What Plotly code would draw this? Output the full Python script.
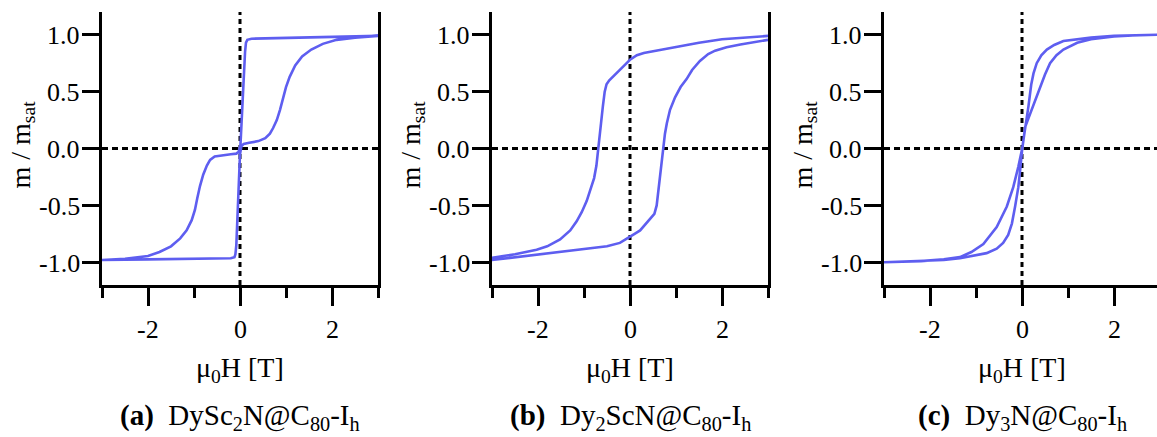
import plotly.graph_objects as go

# ---------------- data ----------------
H_a = [3.0, 2.5, 2.0, 1.5, 1.0, 0.5, 0.25, 0.16, 0.13, 0.11, 0.08, 0.05, 0.03, 0.01, -0.03, -0.08,
       -0.2, -0.4, -0.55, -0.65, -0.72, -0.8, -0.87, -0.93, -0.98, -1.05, -1.16, -1.3, -1.5, -1.75,
       -2.0, -2.5, -3.0,
       -3.0, -2.0, -1.0, -0.5, -0.2, -0.12, -0.1, -0.08, -0.06, -0.04, -0.02, 0.0, 0.03, 0.08,
       0.2, 0.4, 0.55, 0.65, 0.72, 0.8, 0.87, 0.94, 1.0, 1.08, 1.2, 1.35, 1.55, 1.8, 2.1, 2.5, 3.0]
M_a = [0.99, 0.985, 0.98, 0.978, 0.975, 0.97, 0.965, 0.955, 0.93, 0.85, 0.6, 0.35, 0.15, 0.03, -0.03, -0.045,
       -0.05, -0.06, -0.07, -0.1, -0.15, -0.23, -0.33, -0.44, -0.54, -0.63, -0.72, -0.79, -0.86, -0.91,
       -0.945, -0.97, -0.98,
       -0.98, -0.975, -0.972, -0.968, -0.965, -0.955, -0.93, -0.85, -0.65, -0.4, -0.18, -0.05, 0.02, 0.04,
       0.05, 0.065, 0.09, 0.13, 0.18, 0.25, 0.34, 0.45, 0.54, 0.63, 0.73, 0.81, 0.87, 0.92, 0.955, 0.975, 0.99]

H_b = [3.0, 2.5, 2.0, 1.5, 1.0, 0.6, 0.3, 0.15, 0.0, -0.1, -0.22, -0.35, -0.45, -0.51, -0.55, -0.59,
       -0.65, -0.7, -0.73, -0.78, -0.86, -0.94, -1.05, -1.16, -1.3, -1.52, -1.8, -2.03, -2.5, -3.0,
       -3.0, -2.5, -2.0, -1.5, -1.0, -0.5, -0.22, 0.0, 0.1, 0.22, 0.35, 0.47, 0.53, 0.58, 0.62, 0.67,
       0.72, 0.76, 0.8, 0.87, 0.98, 1.1, 1.23, 1.35, 1.52, 1.7, 1.85, 2.1, 2.4, 2.7, 3.0]
M_b = [0.99, 0.975, 0.96, 0.93, 0.895, 0.865, 0.84, 0.82, 0.78, 0.74, 0.69, 0.64, 0.6, 0.565, 0.5, 0.37,
       0.17, 0.0, -0.15, -0.26, -0.37, -0.46, -0.56, -0.64, -0.72, -0.8, -0.86, -0.89, -0.93, -0.96,
       -0.98, -0.955, -0.93, -0.905, -0.885, -0.86, -0.83, -0.78, -0.75, -0.72, -0.66, -0.61, -0.575, -0.5, -0.36, -0.15,
       0.0, 0.13, 0.22, 0.34, 0.45, 0.54, 0.61, 0.69, 0.77, 0.83, 0.86, 0.89, 0.915, 0.935, 0.955]

H_c = [3.0, 2.5, 2.0, 1.5, 1.2, 0.9, 0.7, 0.54, 0.42, 0.32, 0.25, 0.2, 0.14, 0.07, 0.0, -0.08,
       -0.19, -0.33, -0.55, -0.84, -1.1, -1.35, -1.7, -2.2, -3.0,
       -3.0, -2.2, -1.7, -1.35, -1.05, -0.77, -0.55, -0.41, -0.3, -0.22, -0.15, -0.08, -0.04, 0.0,
       0.07, 0.21, 0.39, 0.5, 0.61, 0.75, 0.9, 1.2, 1.5, 2.0, 2.5, 3.0]
M_c = [1.0, 0.995, 0.99, 0.975, 0.96, 0.945, 0.91, 0.87, 0.82, 0.75, 0.66, 0.56, 0.37, 0.17, -0.01, -0.16,
       -0.34, -0.51, -0.69, -0.84, -0.91, -0.955, -0.975, -0.99, -1.0,
       -1.0, -0.99, -0.98, -0.965, -0.945, -0.92, -0.88, -0.83, -0.76, -0.66, -0.51, -0.34, -0.19, -0.02,
       0.19, 0.34, 0.54, 0.65, 0.75, 0.82, 0.87, 0.93, 0.96, 0.985, 0.995, 1.0]

captions = ["<b>(a)</b>\u2002DySc<sub>2</sub>N@C<sub>80</sub>-I<sub>h</sub>",
            "<b>(b)</b>\u2002Dy<sub>2</sub>ScN@C<sub>80</sub>-I<sub>h</sub>",
            "<b>(c)</b>\u2002Dy<sub>3</sub>N@C<sub>80</sub>-I<sub>h</sub>"]
y_tickvals = [-1.0, -0.5, 0.0, 0.5, 1.0]
y_ticktext = ["-1.0", "-0.5", "0.0", "0.5", "1.0"]
x_tickvals = [-2, 0, 2]
x_ticktext = ["-2", "0", "2"]
x_minorvals = [-3, -1, 1, 3]
x_title = "\u03bc<sub>0</sub>H [T]"
y_title = "m / m<sub>sat</sub>"

# ---------------- figure ----------------
W, Hh = 1157, 437
LINE = "#5e5ef0"
FONT = "Liberation Serif"
TICKFONT = dict(family=FONT, size=26, color="black")

fig = go.Figure()
series = [(H_a, M_a), (H_b, M_b), (H_c, M_c)]
left_px = [102, 492, 884]
plot_w = 276
xranges = [[-3, 3], [-3, 3], [-3, -3 + 6 * (W - 884) / plot_w]]

for i, (hx, my) in enumerate(series):
    n = i + 1
    xa = "x" if n == 1 else f"x{n}"
    ya = "y" if n == 1 else f"y{n}"
    fig.add_trace(go.Scatter(x=hx, y=my, mode="lines", xaxis=xa, yaxis=ya,
                             line=dict(color=LINE, width=2.6), showlegend=False,
                             hoverinfo="skip"))
    d0 = left_px[i] / W
    d1 = min(1.0, (left_px[i] + plot_w) / W)
    xkey = "xaxis" if n == 1 else f"xaxis{n}"
    ykey = "yaxis" if n == 1 else f"yaxis{n}"
    fig.layout[xkey] = dict(domain=[d0, d1], range=xranges[i], anchor=ya,
                            showgrid=False, zeroline=False, showline=True, linecolor="black",
                            linewidth=3, mirror=False,
                            ticks="outside", ticklen=18, tickwidth=3, tickcolor="black",
                            tickmode="array", tickvals=x_tickvals, showticklabels=False,
                            minor=dict(tickvals=x_minorvals, ticks="outside", ticklen=10,
                                       tickwidth=3, tickcolor="black", showgrid=False))
    fig.layout[ykey] = dict(domain=[0, 1], range=[-1.2, 1.2], anchor=xa,
                            showgrid=False, zeroline=False, showline=True, linecolor="black",
                            linewidth=3, mirror=(i < 2),
                            ticks="outside", ticklen=17, tickwidth=3, tickcolor="black",
                            tickmode="array", tickvals=y_tickvals, showticklabels=False)
    # tick labels placed through the axes
    for v, t in zip(y_tickvals, y_ticktext):
        fig.add_annotation(xref=f"{xa} domain", yref=ya, x=0, y=v, xshift=-21, yshift=-1,
                           text=t, showarrow=False, xanchor="right", yanchor="middle",
                           borderpad=0, font=TICKFONT)
    for v, t in zip(x_tickvals, x_ticktext):
        fig.add_annotation(xref=xa, yref=f"{ya} domain", x=v, y=0, yshift=-44,
                           text=t, showarrow=False, xanchor="center", yanchor="middle",
                           borderpad=0, font=TICKFONT)
    # dashed zero lines
    fig.add_shape(type="line", xref=xa, yref=f"{ya} domain", x0=0, x1=0, y0=0, y1=1,
                  line=dict(color="black", width=3, dash="5px,4px"), layer="below")
    fig.add_shape(type="line", xref=f"{xa} domain", yref=ya, x0=0, x1=1, y0=0, y1=0,
                  line=dict(color="black", width=3, dash="6px,4px"), layer="below")
    # axis titles
    fig.add_annotation(xref=f"{xa} domain", yref=f"{ya} domain", x=0, y=0.5,
                       xshift=-80, yshift=4, text=y_title, textangle=-90, showarrow=False,
                       xanchor="center", yanchor="middle",
                       font=dict(family=FONT, size=28, color="black"))
    xc = 0.5 if i < 2 else (left_px[i] + 138) / W
    xr = f"{xa} domain" if i < 2 else "paper"
    fig.add_annotation(xref=xr, yref=f"{ya} domain", x=xc, y=0,
                       yshift=-84, text=x_title, showarrow=False,
                       xanchor="center", yanchor="middle",
                       font=dict(family=FONT, size=28, color="black"))
    fig.add_annotation(xref=xr, yref=f"{ya} domain", x=xc, y=0,
                       yshift=-132, text=captions[i], showarrow=False,
                       xanchor="center", yanchor="middle",
                       font=dict(family=FONT, size=29, color="black"))

fig.update_layout(width=W, height=Hh, margin=dict(l=0, r=0, t=12, b=152),
                  paper_bgcolor="white", plot_bgcolor="white",
                  font=dict(family=FONT, size=26, color="black"))

fig.write_html("out.html")
